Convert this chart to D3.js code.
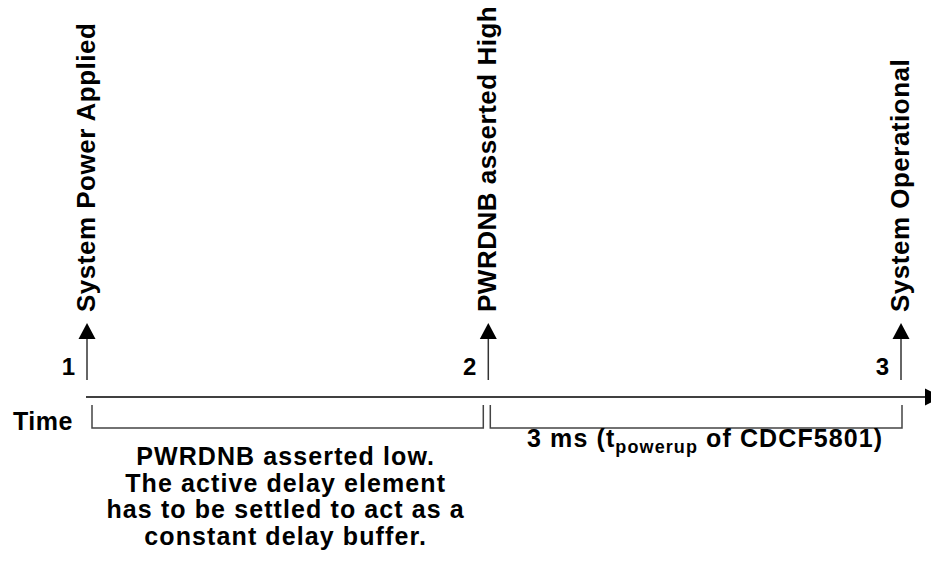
<!DOCTYPE html>
<html>
<head>
<meta charset="utf-8">
<script src="https://cdn.jsdelivr.net/npm/d3@7"></script>
<style>
  body { margin: 0; background: #fff; }
  text { font-family: "Liberation Sans", Arial, sans-serif; font-weight: bold; fill: #000; }
</style>
</head>
<body>
<svg id="chart"></svg>
<script>
const width = 931;
const height = 563;

// **************************** data ******************************************
const eventIds = ["1", "2", "3"];
const eventTimes = [0, 0.493, 1];
const eventLabels = ["System Power Applied", "PWRDNB asserted High", "System Operational"];

// intervals between events (index of start / end event)
const intervalStart = [0, 1];
const intervalEnd = [1, 2];
const intervalText = [
  ["PWRDNB asserted low.", "The active delay element", "has to be settled to act as a", "constant delay buffer."],
  ["3 ms (t_powerup of CDCF5801)"]
];

const axisLabel = "Time";

// **************************** drawing ******************************************
const x = d3.scaleLinear().domain([0, 1]).range([87, 901]);

const svg = d3.select("#chart")
  .attr("width", width)
  .attr("height", height)
  .attr("viewBox", [0, 0, width, height]);

const axisY = 397;

// time axis with arrowhead (runs off the right edge)
svg.append("line")
  .attr("x1", x(0) - 1).attr("x2", 930)
  .attr("y1", axisY).attr("y2", axisY)
  .attr("stroke", "#000").attr("stroke-width", 1.5);
svg.append("path")
  .attr("d", `M925,${axisY - 8.5}L942,${axisY}L925,${axisY + 8.5}Z`)
  .attr("fill", "#000");

svg.append("text")
  .attr("x", 13).attr("y", 430)
  .attr("font-size", 25)
  .attr("letter-spacing", 0.5)
  .text(axisLabel);

// event arrows
const events = eventIds.map((id, i) => ({id, t: eventTimes[i], label: eventLabels[i]}));

const ev = svg.selectAll("g.event")
  .data(events)
  .join("g")
  .attr("class", "event")
  .attr("transform", d => `translate(${x(d.t)},0)`);

ev.append("line")
  .attr("y1", 380).attr("y2", 336)
  .attr("stroke", "#333").attr("stroke-width", 1.5);

ev.append("path")
  .attr("d", "M0,323L8.5,339L-8.5,339Z")
  .attr("fill", "#000");

ev.append("text")
  .attr("x", -12).attr("y", 375)
  .attr("text-anchor", "end")
  .attr("font-size", 24)
  .text(d => d.id);

ev.append("text")
  .attr("transform", "translate(8,312) rotate(-90)")
  .attr("font-size", 26)
  .attr("letter-spacing", 0.5)
  .text(d => d.label);

// brackets under the axis
const bracketInset = [[5, -5], [2, 1]];
const intervals = intervalStart.map((s, i) => ({
  x0: x(eventTimes[s]) + bracketInset[i][0],
  x1: x(eventTimes[intervalEnd[i]]) + bracketInset[i][1],
  lines: intervalText[i]
}));

svg.selectAll("path.bracket")
  .data(intervals)
  .join("path")
  .attr("class", "bracket")
  .attr("d", d => `M${d.x0},405V428H${d.x1}V405`)
  .attr("fill", "none")
  .attr("stroke", "#444")
  .attr("stroke-width", 1.5);

// interval descriptions
const desc = svg.selectAll("text.desc")
  .data(intervals)
  .join("text")
  .attr("class", "desc")
  .attr("text-anchor", "middle")
  .attr("font-size", 25)
  .attr("letter-spacing", 1.1)
  .attr("x", d => (d.x0 + d.x1) / 2 + (d.lines.length > 1 ? -2 : 9))
  .attr("y", d => d.lines.length > 1 ? 465 : 447);

desc.each(function(d) {
  const t = d3.select(this);
  const cx = +t.attr("x");
  d.lines.forEach((line, j) => {
    const m = line.match(/^(.*)t_(\w+)(.*)$/);
    if (m) {
      const ts = t.append("tspan").attr("x", cx).attr("dy", j ? 26.7 : 0);
      ts.text(m[1] + "t");
      t.append("tspan").attr("font-size", 18).attr("dy", 6).text(m[2]);
      t.append("tspan").attr("dy", -6).text(m[3]);
    } else {
      t.append("tspan").attr("x", cx).attr("dy", j ? 26.7 : 0).text(line);
    }
  });
});
</script>
</body>
</html>
